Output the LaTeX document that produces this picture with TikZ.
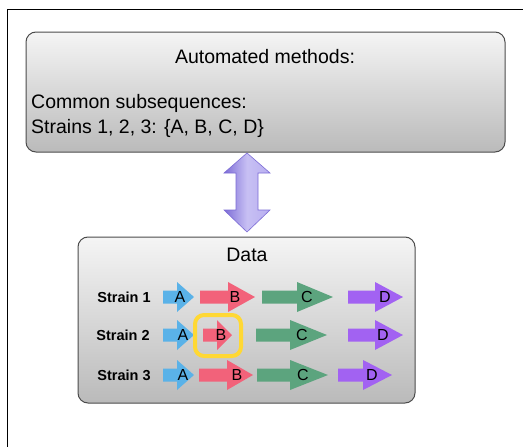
\documentclass[tikz,border=0pt]{standalone}
\usepackage{fontspec}
\setmainfont{Liberation Sans}
\definecolor{cA}{HTML}{5AB2E8}
\definecolor{cB}{HTML}{F2627A}
\definecolor{cC}{HTML}{5CA47E}
\definecolor{cD}{HTML}{A262F2}
\definecolor{cY}{HTML}{FFD834}
\definecolor{cDbl}{HTML}{9A8CEA}
\definecolor{cDblD}{HTML}{7C6CD6}
\newcommand\sarr[6]{% name x1 xh x2 y color
  \fill[#6] (#2,#5-6.5) -- (#3,#5-6.5) -- (#3,#5-15) -- (#4,#5) -- (#3,#5+15) -- (#3,#5+6.5) -- (#2,#5+6.5) -- cycle;
  \coordinate (#1) at (#2,#5);}
\begin{document}
\begin{tikzpicture}[x=1pt,y=-1pt,
  panel/.style={draw=black!70, line width=1pt, rounded corners=10pt, top color=black!4, bottom color=black!27},
  lbl/.style={font=\fontsize{16}{16}\selectfont, inner sep=0pt},
  strain/.style={font=\bfseries\fontsize{14.5}{14.5}\selectfont, inner sep=0pt},
  big/.style={font=\fontsize{19.5}{19.5}\selectfont, inner sep=0pt}]
\useasboundingbox (0,0) rectangle (523,447);
\fill[white] (0,0) rectangle (523,447);
% outer frame
\draw[line width=1.5pt] (7.5,447) -- (7.5,9.5) -- (523,9.5);
% top box
\path[panel] (26,32) rectangle (505,152);
\node[big] (title) at (265,57) {Automated methods:};
\node[big, anchor=west] (common) at (31,103) {Common subsequences:};
\node[big, anchor=west] (strains) at (31,128) {Strains 1, 2, 3: \{A, B, C, D\}};
% double arrow
\path[draw=cDblD, line width=0.6pt, left color=cDblD, right color=cDbl!70, middle color=cDbl!55]
  (247,153) -- (270,173) -- (258,173) -- (258,210) -- (270,210) -- (247,232)
  -- (224,210) -- (236,210) -- (236,173) -- (224,173) -- cycle;
% data box
\path[panel] (78,237) rectangle (415,403);
\node[big] (data) at (247,255) {Data};
\node[strain] (s1) at (124,297) {Strain 1};
\node[strain] (s2) at (123,335) {Strain 2};
\node[strain] (s3) at (124,375) {Strain 3};
% row 1
\sarr{a1}{163}{177}{194}{297}{cA}
\sarr{b1}{200}{228}{255}{297}{cB}
\sarr{c1}{262}{297}{333}{297}{cC}
\sarr{d1}{348}{375}{403}{297}{cD}
% row 2
\sarr{a2}{163}{177}{194}{335}{cA}
\sarr{b2}{203}{217}{232}{335}{cB}
\sarr{c2}{256}{290}{327}{335}{cC}
\sarr{d2}{348}{375}{403}{335}{cD}
% row 3
\sarr{a3}{163}{177}{194}{375}{cA}
\sarr{b3}{199}{227}{253}{375}{cB}
\sarr{c3}{257}{290}{328}{375}{cC}
\sarr{d3}{338}{363}{392}{375}{cD}
% labels
\node[lbl] (la1) at (180,297) {A};
\node[lbl] (lb1) at (235,297) {B};
\node[lbl] (lc1) at (307,297) {C};
\node[lbl] (ld1) at (385,297) {D};
\node[lbl] (la2) at (183,335) {A};
\node[lbl] (lb2) at (221,335) {B};
\node[lbl] (lc2) at (302,335) {C};
\node[lbl] (ld2) at (383,335) {D};
\node[lbl] (la3) at (183,375) {A};
\node[lbl] (lb3) at (237,375) {B};
\node[lbl] (lc3) at (303,375) {C};
\node[lbl] (ld3) at (372,375) {D};
% highlight
\draw[cY, line width=4pt, rounded corners=9pt] (195,315) rectangle (241,356);
\end{tikzpicture}
\end{document}
